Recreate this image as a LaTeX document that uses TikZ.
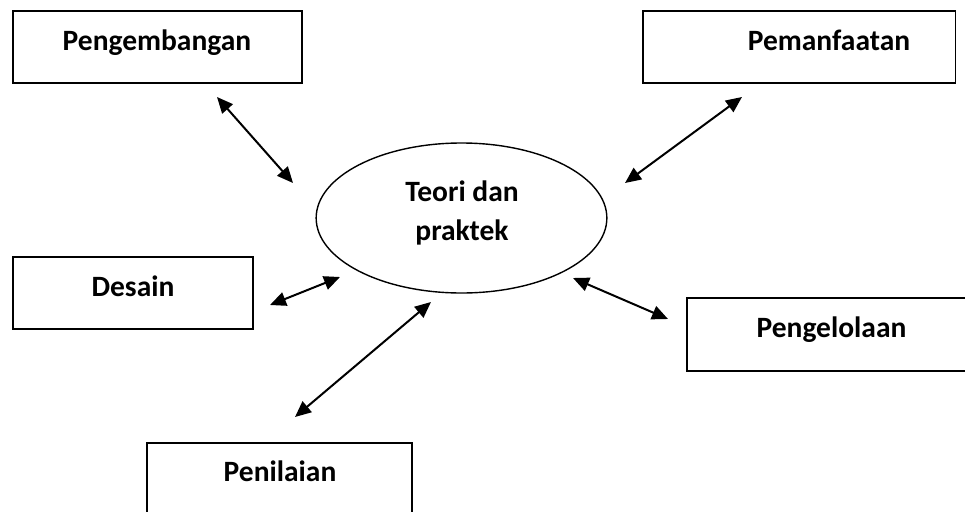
\documentclass[tikz,border=0pt]{standalone}
\usepackage{fontspec}
\setmainfont{Carlito}
\usetikzlibrary{arrows.meta,shapes.geometric}
\begin{document}
\begin{tikzpicture}[x=1pt,y=-1pt,
  box/.style={draw, line width=1.8pt, rectangle, inner sep=0pt},
  lbl/.style={font=\fontsize{29.5}{35}\selectfont\bfseries, inner sep=0pt, anchor=base},
  oval/.style={draw, ellipse, line width=1.4pt, inner sep=0pt},
  dbl/.style={line width=2pt, {Triangle[length=16pt,width=14pt]}-{Triangle[length=16pt,width=14pt]}}]
\useasboundingbox (0,0) rectangle (965,511);
\clip (0,0) rectangle (965,511);
% boxes
\node[box, minimum width=289pt, minimum height=72pt] (pengembangan) at (157.2,46.7) {};
\node[box, minimum width=312.8pt, minimum height=72pt] (pemanfaatan) at (799.1,46.7) {};
\node[box, minimum width=240.3pt, minimum height=72.6pt] (desain) at (132.85,293) {};
\node[box, minimum width=289.3pt, minimum height=72.7pt] (pengelolaan) at (831.35,334.65) {};
\node[box, minimum width=264.4pt, minimum height=72pt] (penilaian) at (279.5,479) {};
\node[oval, minimum width=290.7pt, minimum height=150pt] (teori) at (461.5,218) {};
% labels
\node[lbl] (tpengembangan) at (157,50) {Pengembangan};
\node[lbl] (tpemanfaatan) at (829,50) {Pemanfaatan};
\node[lbl] (tdesain) at (133,296) {Desain};
\node[lbl] (tpengelolaan) at (831.5,337) {Pengelolaan};
\node[lbl] (tpenilaian) at (280,481.7) {Penilaian};
\node[lbl] (tteori1) at (462,201.7) {Teori dan};
\node[lbl] (tteori2) at (462,240) {praktek};
% arrow ends
\coordinate (a1) at (217,97);  \coordinate (b1) at (293,183);
\coordinate (a2) at (742,97);  \coordinate (b2) at (625,183);
\coordinate (a3) at (270,305); \coordinate (b3) at (340,277);
\coordinate (a4) at (295,417); \coordinate (b4) at (431,302);
\coordinate (a5) at (573,278); \coordinate (b5) at (668,319);
\draw[dbl] (a1) -- (b1);
\draw[dbl] (a2) -- (b2);
\draw[dbl] (a3) -- (b3);
\draw[dbl] (a4) -- (b4);
\draw[dbl] (a5) -- (b5);
\end{tikzpicture}
\end{document}
